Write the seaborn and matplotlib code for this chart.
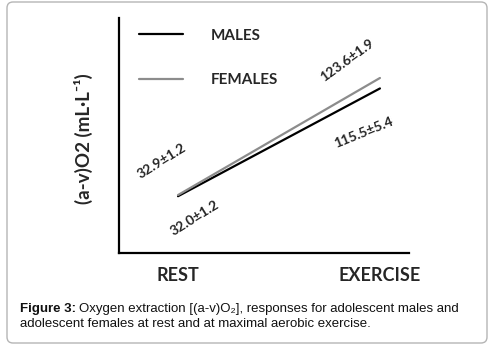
import matplotlib
matplotlib.use("Agg")
import matplotlib.pyplot as plt
from matplotlib.patches import FancyBboxPatch
import pandas as pd
import seaborn as sns

conditions = ["REST", "EXERCISE"]
males = [32.0, 115.5]
females = [32.9, 123.6]
males_sd = [1.2, 5.4]
females_sd = [1.2, 1.9]

df = pd.DataFrame({
    "condition": conditions * 2,
    "value": males + females,
    "group": ["MALES"] * 2 + ["FEMALES"] * 2,
})

sns.set_theme(style="white")
plt.rcParams["font.family"] = ["Lato", "DejaVu Sans"]

fig = plt.figure(figsize=(4.94, 3.48), dpi=100)
ax = fig.add_axes([0.241, 0.273, 0.587, 0.675])

sns.lineplot(data=df, x="condition", y="value", hue="group",
             palette={"MALES": "black", "FEMALES": "#8c8c8c"},
             linewidth=1.6, errorbar=None, ax=ax)

ax.set_xlim(-0.292, 1.144)
ax.set_ylim(-12, 170)
ax.set_yticks([])
ax.tick_params(axis="x", length=0, pad=10)
for lab in ax.get_xticklabels():
    lab.set_fontweight("bold")
    lab.set_fontsize(13)
ax.set_xlabel("")
ax.set_ylabel("(a-v)O2 (mL·L⁻¹)", fontsize=13.5, fontweight="bold")
ax.yaxis.set_label_coords(-0.09, 0.485)

sns.despine(ax=ax)
for side in ["left", "bottom"]:
    ax.spines[side].set_color("black")
    ax.spines[side].set_linewidth(1.6)

ax.legend(title=None, frameon=False, loc="upper left",
          bbox_to_anchor=(0.069, 0.955), borderpad=0, borderaxespad=0,
          handlelength=2.9, handletextpad=1.8, labelspacing=2.0,
          prop={"weight": "bold", "size": 11})

# value labels
lbl = dict(textcoords="offset pixels", ha="center", va="center",
           fontsize=10, fontweight="bold")
ax.annotate(f"{males[0]:.1f}±{males_sd[0]}", xy=(conditions[0], males[0]),
            xytext=(17, -22), rotation=32, **lbl)
ax.annotate(f"{females[0]:.1f}±{females_sd[0]}", xy=(conditions[0], females[0]),
            xytext=(-16, 34), rotation=32, **lbl)
ax.annotate(f"{females[1]:.1f}±{females_sd[1]}", xy=(conditions[1], females[1]),
            xytext=(-33, 18), rotation=36, **lbl)
ax.annotate(f"{males[1]:.1f}±{males_sd[1]}", xy=(conditions[1], males[1]),
            xytext=(-16, -44), rotation=22, **lbl)

# caption
cap = dict(fontsize=9.5, family=["Liberation Sans", "DejaVu Sans"], color="#111111")
t1 = fig.text(20 / 494, 1 - 315 / 348, "Figure 3:", fontweight="bold", va="bottom", **cap)
ax.annotate("Oxygen extraction [(a-v)O₂], responses for adolescent males and",
            xy=(1, 0), xycoords=t1, xytext=(3, 0), textcoords="offset pixels",
            va="bottom", ha="left", annotation_clip=False, **cap)
fig.text(20 / 494, 1 - 330 / 348,
         "adolescent females at rest and at maximal aerobic exercise.",
         va="bottom", **cap)

# rounded frame around figure
fig.patches.append(FancyBboxPatch((0.07, 0.05), 4.80, 3.41,
                                  boxstyle="round,pad=0,rounding_size=0.06",
                                  transform=fig.dpi_scale_trans, fill=False,
                                  edgecolor="#b5b5b5", linewidth=1.0))

fig.savefig("out.png", dpi=100)
